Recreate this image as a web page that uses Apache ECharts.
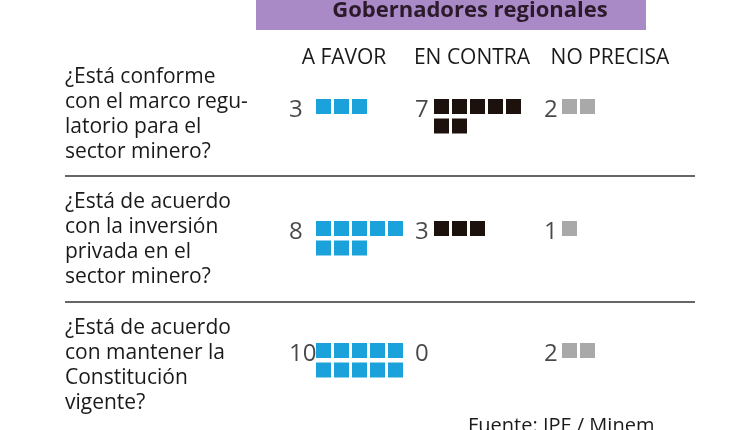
<!DOCTYPE html>
<html>
<head>
<meta charset="utf-8">
<script src="https://cdn.jsdelivr.net/npm/echarts@6/dist/echarts.min.js"></script>
<style>
  html, body { margin: 0; padding: 0; background: #fff; }
  #chart { width: 750px; height: 430px; }
</style>
</head>
<body>
<div id="chart"></div>
<script>
// datos
var title = 'Gobernadores regionales';
var columns = ['A FAVOR', 'EN CONTRA', 'NO PRECISA'];
var questions = [
  '¿Está conforme\ncon el marco regu-\nlatorio para el\nsector minero?',
  '¿Está de acuerdo\ncon la inversión\nprivada en el\nsector minero?',
  '¿Está de acuerdo\ncon mantener la\nConstitución\nvigente?'
];
var aFavor = [3, 8, 10];
var enContra = [7, 3, 0];
var noPrecisa = [2, 1, 2];
var source = 'Fuente: IPE / Minem';

var counts = [aFavor, enContra, noPrecisa];
var colors = ['#1ba2da', '#1c110c', '#a9a9a9'];

// layout
var FONT = '"Open Sans", "Noto Sans", sans-serif';
var squareLeft = [314.5, 432.5, 560.5]; // borde izquierdo de cada grid
var labelLeft = [289, 415, 544];
var perRow = 5;
var pitchX = 18;
var qPitch = 122;
var rowStep = 19.5 / qPitch;
var firstRowY = 106.5;

var chart = echarts.init(document.getElementById('chart'), null, {renderer: 'canvas'});

var grids = [], xAxes = [], yAxes = [], series = [];
columns.forEach(function (col, c) {
  grids.push({
    left: squareLeft[c],
    width: perRow * pitchX,
    top: firstRowY - qPitch * 0.5,
    height: qPitch * 3,
    containLabel: false
  });
  xAxes.push({type: 'value', gridIndex: c, min: 0, max: perRow, show: false});
  yAxes.push({type: 'value', gridIndex: c, min: -0.5, max: 2.5, inverse: true, show: false});

  var pts = [];
  counts[c].forEach(function (n, q) {
    for (var i = 0; i < n; i++) {
      pts.push([i % perRow + 0.5, q + Math.floor(i / perRow) * rowStep]);
    }
  });
  series.push({
    type: 'scatter',
    xAxisIndex: c,
    yAxisIndex: c,
    symbol: 'rect',
    symbolSize: 15,
    clip: false,
    silent: true,
    itemStyle: {color: colors[c], opacity: 1},
    data: pts
  });

  // numeros
  var lx = (labelLeft[c] - squareLeft[c]) / pitchX;
  series.push({
    type: 'scatter',
    xAxisIndex: c,
    yAxisIndex: c,
    symbolSize: 0,
    clip: false,
    silent: true,
    data: counts[c].map(function (n, q) { return {value: [lx, q], count: n}; }),
    label: {
      show: true,
      position: 'right',
      distance: 0,
      offset: [0, 4],
      formatter: function (p) { return String(p.data.count); },
      fontFamily: FONT,
      fontSize: 24,
      color: '#1a1a1a'
    }
  });
});

var graphic = [
  {type: 'rect', shape: {x: 256, y: -5, width: 390, height: 35}, style: {fill: '#a98ac7'}},
  {type: 'text', x: 470, y: 11, style: {text: title, fontFamily: FONT, fontWeight: 'bold', fontSize: 22, fill: '#2a1a2a', align: 'center', verticalAlign: 'middle'}},
  {type: 'line', shape: {x1: 65, y1: 176, x2: 695, y2: 176}, style: {stroke: '#333', lineWidth: 1.5}},
  {type: 'line', shape: {x1: 65, y1: 302, x2: 695, y2: 302}, style: {stroke: '#333', lineWidth: 1.5}},
  {type: 'text', x: 468, y: 426, style: {text: source, fontFamily: FONT, fontSize: 20, fill: '#1a1a1a', align: 'left', verticalAlign: 'middle'}}
];
var headerX = [344, 472, 610];
columns.forEach(function (col, c) {
  graphic.push({type: 'text', x: headerX[c], y: 58, style: {text: col, fontFamily: FONT, fontSize: 21, fill: '#1a1a1a', align: 'center', verticalAlign: 'middle'}});
});
var qTop = [65, 190, 316];
questions.forEach(function (t, q) {
  graphic.push({type: 'text', x: 65, y: qTop[q], style: {text: t, fontFamily: FONT, fontSize: 21, lineHeight: 25, fill: '#1a1a1a', align: 'left', verticalAlign: 'top'}});
});

chart.setOption({
  animation: false,
  backgroundColor: '#fff',
  grid: grids,
  xAxis: xAxes,
  yAxis: yAxes,
  series: series,
  graphic: graphic
});
</script>
</body>
</html>
